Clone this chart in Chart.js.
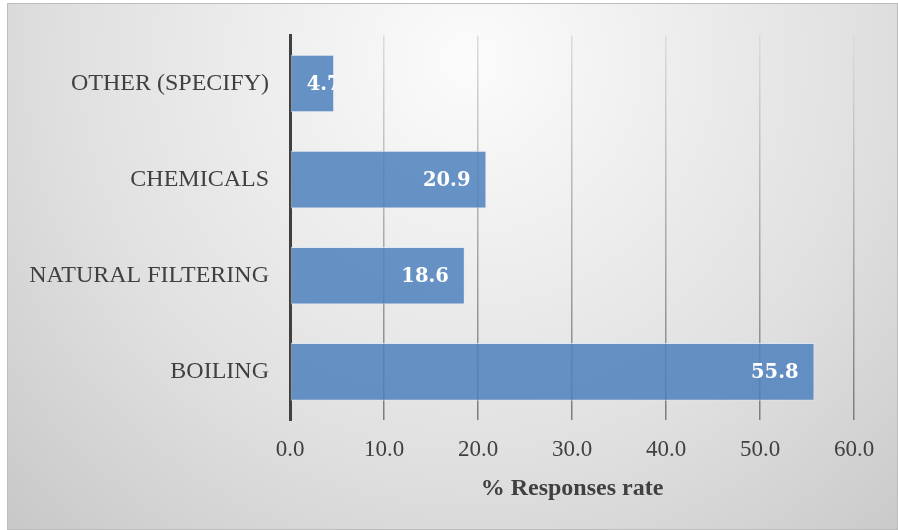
<!DOCTYPE html>
<html>
<head>
<meta charset="utf-8">
<script src="https://cdn.jsdelivr.net/npm/chart.js@4.4.1/dist/chart.umd.min.js"></script>
<style>
  html, body { margin: 0; padding: 0; background: #ffffff; }
  #wrap { position: relative; width: 898px; height: 530px; }
</style>
</head>
<body>
<div id="wrap"><canvas id="chart" width="898" height="530"></canvas></div>
<script>
// Water treatment methods and their share of responses (%)
const categories = ['OTHER (SPECIFY)', 'CHEMICALS', 'NATURAL FILTERING', 'BOILING'];
const responseRates = [4.7, 20.9, 18.6, 55.8];
const axisTicks = [0, 10, 20, 30, 40, 50, 60];
const axisTitle = '% Responses rate';

const serif = '"Liberation Serif", "Times New Roman", serif';

// Soft radial backdrop with a thin frame
const backdrop = {
  id: 'backdrop',
  beforeDraw(chart) {
    const { ctx, width, height } = chart;
    ctx.save();
    const g = ctx.createRadialGradient(470, 60, 10, 470, 60, 720);
    g.addColorStop(0, '#fbfbfb');
    g.addColorStop(0.55, '#e0e0e0');
    g.addColorStop(1, '#c2c2c2');
    ctx.fillStyle = g;
    ctx.fillRect(7, 3, width - 7, height - 3);
    ctx.strokeStyle = '#bdbdbd';
    ctx.lineWidth = 1;
    ctx.strokeRect(7.5, 3.5, width - 8, height - 4);
    ctx.restore();
  }
};

// White value labels inside each bar, clipped to the bar;
// right-aligned at the end when they fit, otherwise from the start
const barValues = {
  id: 'barValues',
  afterDatasetsDraw(chart) {
    const { ctx } = chart;
    const meta = chart.getDatasetMeta(0);
    const data = chart.data.datasets[0].data;
    const pad = 16;
    meta.data.forEach((bar, i) => {
      const p = bar.getProps(['x', 'y', 'base', 'height'], true);
      const text = data[i].toFixed(1);
      ctx.save();
      ctx.beginPath();
      ctx.rect(p.base, p.y - p.height / 2, p.x - p.base, p.height);
      ctx.clip();
      ctx.fillStyle = '#ffffff';
      ctx.font = 'bold 19.5px "DejaVu Serif", serif';
      ctx.textBaseline = 'middle';
      const w = ctx.measureText(text).width;
      if (w + 2 * pad <= p.x - p.base) {
        ctx.textAlign = 'right';
        ctx.fillText(text, p.x - pad, p.y + 1);
      } else {
        ctx.textAlign = 'left';
        ctx.fillText(text, p.base + pad, p.y + 1);
      }
      ctx.restore();
    });
  }
};

function gridColor(context) {
  const chart = context.chart;
  const area = chart.chartArea;
  if (!area) return '#a0a0a0';
  const g = chart.ctx.createLinearGradient(0, area.top, 0, area.bottom);
  g.addColorStop(0, '#dcdcdc');
  g.addColorStop(1, '#7c7c7c');
  return g;
}

new Chart(document.getElementById('chart'), {
  type: 'bar',
  data: {
    labels: categories,
    datasets: [{
      data: responseRates,
      backgroundColor: 'rgba(79, 129, 189, 0.86)',
      borderColor: 'rgba(220, 232, 245, 0.7)',
      borderWidth: 1,
      borderSkipped: false,
      categoryPercentage: 1.0,
      barPercentage: 0.6
    }]
  },
  options: {
    indexAxis: 'y',
    responsive: false,
    animation: false,
    layout: { padding: { top: 31, right: 44, left: 0, bottom: 0 } },
    plugins: {
      legend: { display: false },
      tooltip: { enabled: false }
    },
    scales: {
      x: {
        min: axisTicks[0],
        max: axisTicks[axisTicks.length - 1],
        afterBuildTicks(scale) {
          scale.ticks = axisTicks.map(v => ({ value: v }));
        },
        afterFit(scale) { scale.height = 110; },
        border: { display: false },
        grid: { color: gridColor, lineWidth: 1.5, drawTicks: false },
        ticks: {
          padding: 16,
          color: '#404040',
          font: { family: serif, size: 23 },
          callback: v => Number(v).toFixed(1)
        },
        title: {
          display: true,
          text: axisTitle,
          color: '#404040',
          font: { family: serif, size: 24, weight: 'bold' },
          padding: { top: 0, bottom: 27 }
        }
      },
      y: {
        afterFit(scale) { scale.width = 290; },
        border: { display: true, color: '#404040', width: 3 },
        grid: { display: false, drawTicks: false },
        ticks: {
          padding: 21,
          color: '#404040',
          font: { family: serif, size: 24 }
        }
      }
    }
  },
  plugins: [backdrop, barValues]
});
</script>
</body>
</html>
